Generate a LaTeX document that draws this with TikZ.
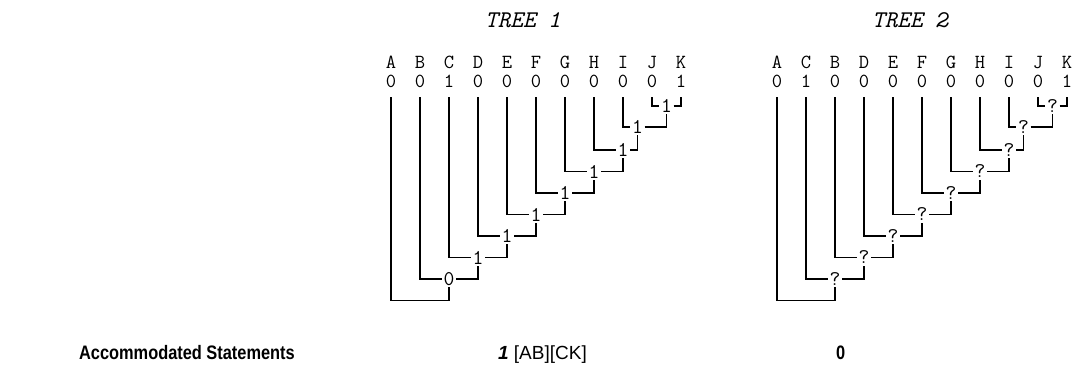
\documentclass[tikz,border=0pt]{standalone}
\usepackage{fontspec}
\newfontfamily\statfont{Liberation Sans}
\newfontfamily\statnarrow[FakeStretch=0.84]{Liberation Sans}
\begin{document}
\begin{tikzpicture}[x=1pt, y=-1pt, line width=1.5pt,
    leaf/.style={anchor=base, inner sep=0pt, font=\fontsize{20}{20}\ttfamily},
    bit/.style={leaf, text depth=9pt},
    joint/.style={inner sep=1pt, font=\fontsize{21}{21}\ttfamily},
    title/.style={anchor=base, font=\fontsize{24}{24}\ttfamily\itshape},
    stat/.style={anchor=base west, font=\fontsize{19}{19}\statfont},
    statbold/.style={anchor=base west, font=\fontsize{19.5}{19.5}\statnarrow\bfseries}]
\useasboundingbox (0,0) rectangle (1078,369);

% tree 1
\node[title] (title1) at (523,28) {TREE 1};
\foreach \c/\name/\v in {0/A/0,1/B/0,2/C/1,3/D/0,4/E/0,5/F/0,6/G/0,7/H/0,8/I/0,9/J/0,10/K/1}
{
  \node[leaf] (l1-\c) at (391+29*\c, 68.5) {\name};
  \node[bit] (d1-\c) at (391+29*\c, 87.5) {\v};
}
\node[joint] (j1-9) at (391+29*9.5, 106) {1};
\node[joint] (j1-8) at (391+29*8.5, 127) {1};
\foreach \c/\v in {7/1,6/1,5/1,4/1,3/1,2/1,1/0}
  \node[joint] (j1-\c) at (391+29*\c+29, 300.5-21.5*\c) {\v};
\coordinate (r1) at (391+29, 300.5);

\draw (d1-9) |- (j1-9) -| (d1-10);
\draw (d1-8) |- (j1-8) -| (j1-9);
\foreach \c in {1,...,7}
{
  \pgfmathtruncatemacro\n{\c+1}
  \draw (d1-\c) |- (j1-\c) -| (j1-\n);
}
\draw (d1-0) |- (r1) -| (j1-1);

% tree 2
\node[title] (title2) at (910,28) {TREE 2};
\foreach \c/\name/\v in {0/A/0,1/C/1,2/B/0,3/D/0,4/E/0,5/F/0,6/G/0,7/H/0,8/I/0,9/J/0,10/K/1}
{
  \node[leaf] (l2-\c) at (777+29*\c, 68.5) {\name};
  \node[bit] (d2-\c) at (777+29*\c, 87.5) {\v};
}
\node[joint] (j2-9) at (777+29*9.5, 106) {?};
\node[joint] (j2-8) at (777+29*8.5, 127) {?};
\foreach \c in {7,...,1}
  \node[joint] (j2-\c) at (777+29*\c+29, 300.5-21.5*\c) {?};
\coordinate (r2) at (777+29, 300.5);

\draw (d2-9) |- (j2-9) -| (d2-10);
\draw (d2-8) |- (j2-8) -| (j2-9);
\foreach \c in {1,...,7}
{
  \pgfmathtruncatemacro\n{\c+1}
  \draw (d2-\c) |- (j2-\c) -| (j2-\n);
}
\draw (d2-0) |- (r2) -| (j2-1);

% statements
\node[statbold] (acc) at (75,359) {Accommodated Statements};
\node[stat] (stat1) at (494,359) {\textbf{\textit{1}} [AB][CK]};
\node[statbold] (stat2) at (832,359) {0};
\end{tikzpicture}
\end{document}
